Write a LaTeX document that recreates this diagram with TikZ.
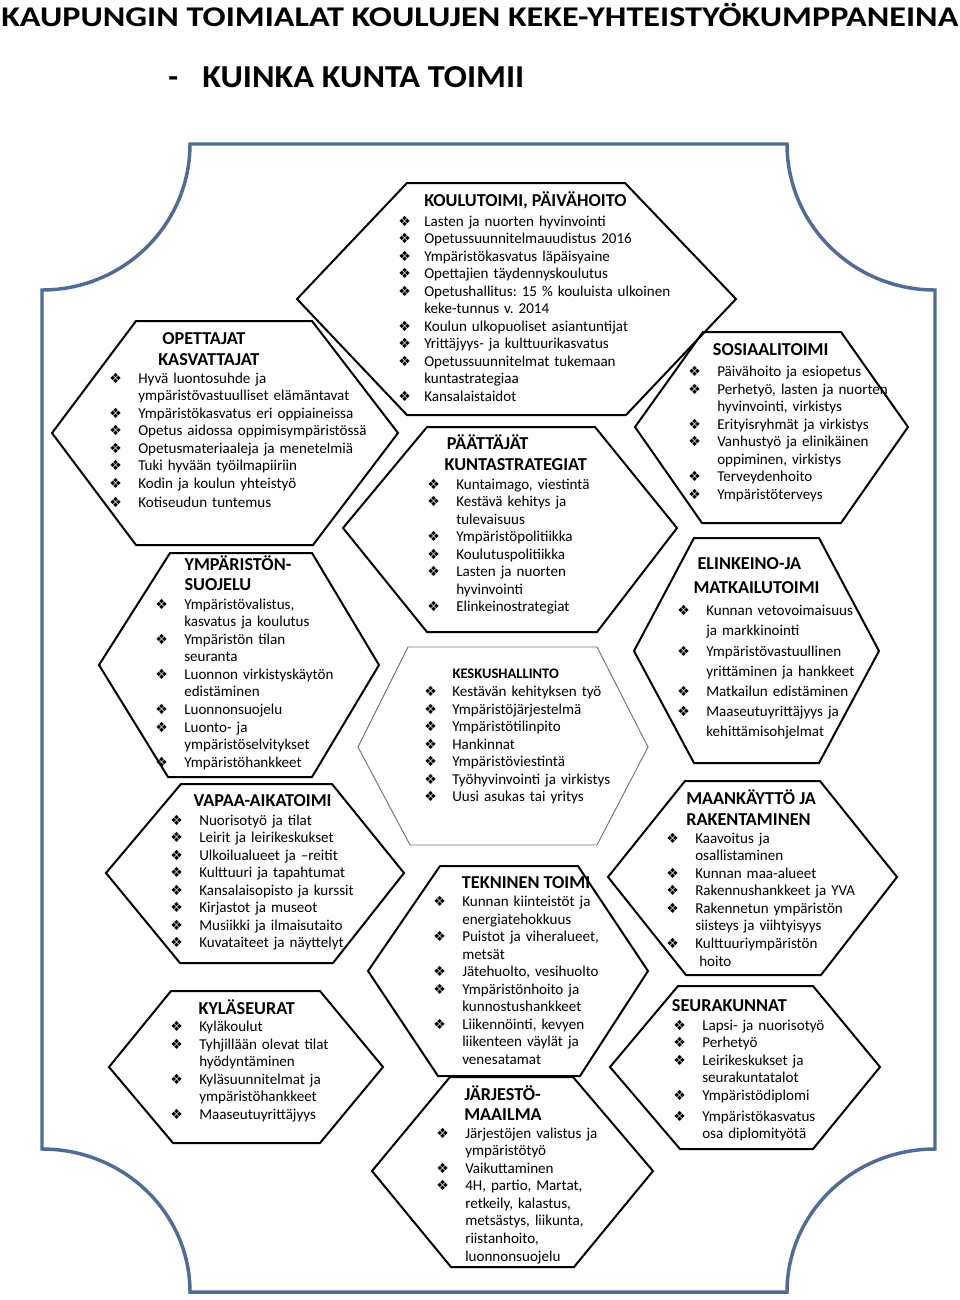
\documentclass[tikz,border=0pt]{standalone}
\usepackage{fontspec}
\setmainfont{Carlito}
\newfontfamily\dingf{DejaVu Sans}
\usepackage{graphicx}
\frenchspacing
\definecolor{framec}{RGB}{79,108,150}
\newlength\pxl \setlength\pxl{0.75pt}
\newlength\bo \setlength\bo{29\pxl}
\newcommand\bul{\makebox[\bo][l]{\raisebox{0pt}{\dingf\fontsize{10.5}{10.5}\selectfont ❖}}}
\newcommand\nob{\hspace*{\bo}}
\tikzset{
  hexa/.style={draw=black, line width=1.5pt, line join=miter},
  hexthin/.style={draw=black!55, line width=0.7pt, line join=miter},
  framestyle/.style={draw=framec, line width=2.6pt, line join=miter},
  head/.style={anchor=base west, inner sep=0pt, font=\fontsize{13.65}{15}\selectfont\bfseries},
  headsmall/.style={anchor=base west, inner sep=0pt, font=\fontsize{10.9}{13}\selectfont\bfseries},
  lst/.style={anchor=base west, inner sep=0pt, text width=340\pxl, align=left, font=\fontsize{11.3}{#1}\selectfont},
  lst/.default=13.15,
  ttl/.style={anchor=base west, inner sep=0pt}
}
\begin{document}
\begin{tikzpicture}[x=0.75pt, y=-0.75pt]
\useasboundingbox (0,0) rectangle (960,1300);
\fill[white] (0,0) rectangle (960,1300);

% titles
\node[ttl] (t1) at (1,26.7) {\fontsize{21.4}{24}\selectfont\bfseries\resizebox{957\pxl}{\height}{KAUPUNGIN TOIMIALAT KOULUJEN KEKE-YHTEISTYÖKUMPPANEINA}};
\node[ttl] (t2d) at (168,87.3) {\fontsize{24}{28}\selectfont\bfseries -};
\node[ttl] (t2) at (202,87.3) {\fontsize{24}{28}\selectfont\bfseries\resizebox{322\pxl}{\height}{KUINKA KUNTA TOIMII}};

% outer frame
\draw[framestyle] (190,144) -- (787,144)
  .. controls (787,224.6) and (853.3,290) .. (935,290) -- (935,1149)
  .. controls (853.3,1149) and (787,1213) .. (787,1292) -- (190,1292)
  .. controls (190,1213) and (123.7,1149) .. (42,1149) -- (42,290)
  .. controls (123.7,290) and (190,224.6) .. (190,144) -- cycle;

% hexagons
\draw[hexa] (297,299) -- (407,183) -- (625,183) -- (736,299) -- (626,415) -- (407,415) -- cycle; % koulutoimi
\draw[hexa] (52,433) -- (136,321) -- (312,321) -- (398,433) -- (313,545) -- (136,545) -- cycle; % opettajat
\draw[hexa] (99,665) -- (170,553) -- (312,553) -- (379,665) -- (312,777) -- (168,777) -- cycle; % ymparistonsuojelu
\draw[hexa] (343,528) -- (427,427) -- (595,427) -- (677,528) -- (597,632) -- (427,632) -- cycle; % paattajat
\draw[hexthin] (358,747) -- (408,647) -- (597,647) -- (648,747) -- (597,845) -- (410,845) -- cycle; % keskushallinto
\draw[hexa] (635,427) -- (703,332) -- (841,332) -- (908,427) -- (841,523) -- (702,523) -- cycle; % sosiaalitoimi
\draw[hexa] (634,651) -- (694,538) -- (819,538) -- (879,651) -- (819,763) -- (694,763) -- cycle; % elinkeino
\draw[hexa] (106,873) -- (181,784) -- (332,784) -- (404,873) -- (333,963) -- (180,963) -- cycle; % vapaa-aika
\draw[hexa] (109,1067) -- (171,991) -- (320,991) -- (383,1067) -- (320,1143) -- (173,1143) -- cycle; % kylaseurat
\draw[hexa] (368,971) -- (440,866) -- (578,866) -- (648,971) -- (580,1076) -- (438,1076) -- cycle; % tekninen
\draw[hexa] (372,1171) -- (450,1077) -- (573,1077) -- (653,1171) -- (574,1267) -- (451,1267) -- cycle; % jarjesto
\draw[hexa] (608,877) -- (685,781) -- (820,781) -- (897,877) -- (821,975) -- (686,975) -- cycle; % maankaytto
\draw[hexa] (610,1067) -- (678,986) -- (813,986) -- (880,1067) -- (813,1149) -- (680,1149) -- cycle; % seurakunnat

% KOULUTOIMI
\node[head] (h1) at (424,206.7) {KOULUTOIMI, PÄIVÄHOITO};
\node[lst] (l1) at (398,226) {\setlength\bo{26\pxl}%
\bul Lasten ja nuorten hyvinvointi\\
\bul Opetussuunnitelmauudistus 2016\\
\bul Ympäristökasvatus läpäisyaine\\
\bul Opettajien täydennyskoulutus\\
\bul Opetushallitus: 15 \% kouluista ulkoinen\\
\nob keke-tunnus v. 2014\\
\bul Koulun ulkopuoliset asiantuntijat\\
\bul Yrittäjyys- ja kulttuurikasvatus\\
\bul Opetussuunnitelmat tukemaan\\
\nob kuntastrategiaa\\
\bul Kansalaistaidot};

% OPETTAJAT
\node[head] (h2a) at (162,344) {OPETTAJAT};
\node[head] (h2b) at (158,365) {KASVATTAJAT};
\node[lst] (l2) at (109,383) {%
\bul Hyvä luontosuhde ja\\
\nob ympäristövastuulliset elämäntavat\\
\bul Ympäristökasvatus eri oppiaineissa\\
\bul Opetus aidossa oppimisympäristössä\\
\bul Opetusmateriaaleja ja menetelmiä\\
\bul Tuki hyvään työilmapiiriin\\
\bul Kodin ja koulun yhteistyö\\[1.8\pxl]
\bul Kotiseudun tuntemus};

% YMPARISTONSUOJELU
\node[head] (h3a) at (184.3,570.7) {YMPÄRISTÖN-};
\node[head] (h3b) at (184.3,590.7) {SUOJELU};
\node[lst] (l3) at (155,609.3) {%
\bul Ympäristövalistus,\\
\nob kasvatus ja koulutus\\
\bul Ympäristön tilan\\
\nob seuranta\\
\bul Luonnon virkistyskäytön\\
\nob edistäminen\\
\bul Luonnonsuojelu\\
\bul Luonto- ja\\
\nob ympäristöselvitykset\\
\bul Ympäristöhankkeet};

% PAATTAJAT
\node[head] (h4a) at (446.7,449.3) {PÄÄTTÄJÄT};
\node[head] (h4b) at (444.3,470) {KUNTASTRATEGIAT};
\node[lst] (l4) at (427,489) {%
\bul Kuntaimago, viestintä\\
\bul Kestävä kehitys ja\\
\nob tulevaisuus\\
\bul Ympäristöpolitiikka\\
\bul Koulutuspolitiikka\\
\bul Lasten ja nuorten\\
\nob hyvinvointi\\
\bul Elinkeinostrategiat};

% KESKUSHALLINTO
\node[headsmall] (h5) at (452.3,678.7) {KESKUSHALLINTO};
\node[lst] (l5) at (424,696.7) {\setlength\bo{28\pxl}%
\bul Kestävän kehityksen työ\\
\bul Ympäristöjärjestelmä\\
\bul Ympäristötilinpito\\
\bul Hankinnat\\
\bul Ympäristöviestintä\\
\bul Työhyvinvointi ja virkistys\\
\bul Uusi asukas tai yritys};

% SOSIAALITOIMI
\node[head] (h6) at (712.7,355) {SOSIAALITOIMI};
\node[lst] (l6) at (688,376.7) {%
\bul Päivähoito ja esiopetus\\
\bul Perhetyö, lasten ja nuorten\\
\nob hyvinvointi, virkistys\\
\bul Erityisryhmät ja virkistys\\
\bul Vanhustyö ja elinikäinen\\
\nob oppiminen, virkistys\\
\bul Terveydenhoito\\
\bul Ympäristöterveys};

% ELINKEINO
\node[head] (h7a) at (697.3,569) {ELINKEINO-JA};
\node[head] (h7b) at (693.3,593.3) {MATKAILUTOIMI};
\node[lst=15.13] (l7) at (677,615.7) {%
\bul Kunnan vetovoimaisuus\\
\nob ja markkinointi\\
\bul Ympäristövastuullinen\\
\nob yrittäminen ja hankkeet\\
\bul Matkailun edistäminen\\
\bul Maaseutuyrittäjyys ja\\
\nob kehittämisohjelmat};

% VAPAA-AIKATOIMI
\node[head] (h8) at (193.3,806.7) {VAPAA-AIKATOIMI};
\node[lst] (l8) at (170,825) {%
\bul Nuorisotyö ja tilat\\
\bul Leirit ja leirikeskukset\\
\bul Ulkoilualueet ja –reitit\\
\bul Kulttuuri ja tapahtumat\\
\bul Kansalaisopisto ja kurssit\\
\bul Kirjastot ja museot\\
\bul Musiikki ja ilmaisutaito\\
\bul Kuvataiteet ja näyttelyt};

% KYLASEURAT
\node[head] (h9) at (198.3,1014.3) {KYLÄSEURAT};
\node[lst] (l9) at (170,1031.7) {%
\bul Kyläkoulut\\
\bul Tyhjillään olevat tilat\\
\nob hyödyntäminen\\
\bul Kyläsuunnitelmat ja\\
\nob ympäristöhankkeet\\
\bul Maaseutuyrittäjyys};

% TEKNINEN
\node[head] (h10) at (461.7,888.3) {TEKNINEN TOIMI};
\node[lst] (l10) at (433,906.7) {%
\bul Kunnan kiinteistöt ja\\
\nob energiatehokkuus\\
\bul Puistot ja viheralueet,\\
\nob metsät\\
\bul Jätehuolto, vesihuolto\\
\bul Ympäristönhoito ja\\
\nob kunnostushankkeet\\
\bul Liikennöinti, kevyen\\
\nob liikenteen väylät ja\\
\nob venesatamat};

% JARJESTOMAAILMA
\node[head] (h11a) at (464,1100) {JÄRJESTÖ-};
\node[head] (h11b) at (464,1120) {MAAILMA};
\node[lst] (l11) at (436,1138.3) {%
\bul Järjestöjen valistus ja\\
\nob ympäristötyö\\
\bul Vaikuttaminen\\
\bul 4H, partio, Martat,\\
\nob retkeily, kalastus,\\
\nob metsästys, liikunta,\\
\nob riistanhoito,\\
\nob luonnonsuojelu};

% MAANKAYTTO
\node[head] (h12a) at (686,804.3) {MAANKÄYTTÖ JA};
\node[head] (h12b) at (686,825) {RAKENTAMINEN};
\node[lst] (l12) at (666,843.3) {%
\bul Kaavoitus ja\\
\nob osallistaminen\\
\bul Kunnan maa-alueet\\
\bul Rakennushankkeet ja YVA\\
\bul Rakennetun ympäristön\\
\nob siisteys ja viihtyisyys\\
\bul Kulttuuriympäristön\\
\nob\hspace*{4\pxl}hoito};

% SEURAKUNNAT
\node[head] (h13) at (671.7,1011.7) {SEURAKUNNAT};
\node[lst] (l13) at (673,1030) {%
\bul Lapsi- ja nuorisotyö\\
\bul Perhetyö\\
\bul Leirikeskukset ja\\
\nob seurakuntatalot\\
\bul Ympäristödiplomi\\[3.5\pxl]
\bul Ympäristökasvatus\\
\nob osa diplomityötä};

\end{tikzpicture}
\end{document}
